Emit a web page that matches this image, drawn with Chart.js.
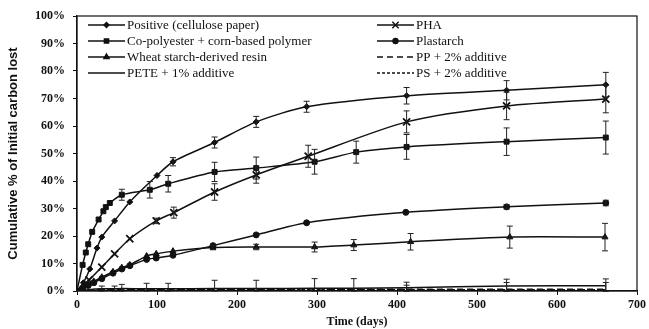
<!DOCTYPE html>
<html>
<head>
<meta charset="utf-8">
<script src="https://cdn.jsdelivr.net/npm/chart.js@4.4.1/dist/chart.umd.min.js"></script>
<style>
  html, body { margin: 0; padding: 0; background: #ffffff; }
  #wrap { width: 649px; height: 329px; position: relative; }
</style>
</head>
<body>
<div id="wrap"><canvas id="c" width="649" height="329"></canvas></div>
<script>
// ---- data ----
const seriesLabels = [
  "Positive (cellulose paper)",
  "Co-polyester + corn-based polymer",
  "Wheat starch-derived resin",
  "PETE + 1% additive",
  "PHA",
  "Plastarch",
  "PP + 2% additive",
  "PS + 2% additive"
];

const positiveDays = [0, 8, 16, 25, 31, 47, 66, 100, 120, 172, 224, 287, 412, 537, 661];
const positiveVals = [0, 3, 8, 15.6, 19.6, 25.5, 32.4, 42, 47, 54, 61.5, 67, 71, 73, 75];
const positiveErr  = [0, 0, 0, 0, 0, 0, 0, 0, 1.5, 2, 2, 2, 3, 3.5, 4.5];

const copolyDays = [0, 7, 11, 14, 19, 27, 33, 36, 41, 56, 91, 114, 172, 224, 297, 349, 412, 537, 661];
const copolyVals = [0, 9.5, 14, 17, 21.5, 26, 29, 30.5, 32, 35, 36.8, 39, 43.3, 44.7, 47, 50.5, 52.4, 54.3, 55.8];
const copolyErr  = [0, 0, 0, 0, 0, 0, 0, 0, 0, 2, 3, 3, 3.5, 4, 4.5, 4, 4.5, 5, 6];

const wheatDays = [0, 7, 14, 21, 31, 45, 56, 66, 87, 99, 120, 170, 224, 297, 346, 417, 541, 660];
const wheatVals = [0, 1.5, 2.5, 3.5, 5, 7, 8.5, 9.5, 12.7, 13.5, 14.5, 15.8, 16, 16, 16.7, 17.9, 19.6, 19.6];
const wheatErr  = [0, 0, 0, 0, 0, 0, 0, 0, 0, 0, 0, 0.8, 1, 1.8, 2, 3, 4, 5];

const peteDays = [0, 14, 31, 47, 56, 87, 114, 172, 224, 297, 346, 412, 537, 661];
const peteVals = [0, 0.5, 0.8, 0.8, 0.9, 0.8, 0.8, 0.9, 0.9, 1.0, 1.0, 1.2, 1.8, 1.9];
const peteErr  = [0, 0, 1, 1, 1.5, 2, 2, 3, 3, 3.5, 3.5, 2, 2.5, 2.5];

const phaDays = [0, 15, 31, 47, 66, 99, 121, 172, 224, 289, 412, 537, 661];
const phaVals = [0, 4, 8.7, 13.5, 19, 25.5, 28.5, 36, 42.2, 49, 61.5, 67.3, 69.8];
const phaErr  = [0, 0, 0, 0, 0, 1, 2, 3, 3, 4, 4, 5, 5];

const plastarchDays = [0, 7, 14, 21, 31, 45, 56, 66, 87, 99, 120, 170, 224, 287, 411, 537, 661];
const plastarchVals = [0, 1, 2, 3, 4.5, 6.5, 8, 9.2, 11.5, 12, 13, 16.5, 20.4, 24.8, 28.6, 30.6, 32];
const plastarchErr  = [0, 0, 0, 0, 0, 0, 0, 0, 0, 0, 0, 0, 0, 0, 0, 0.8, 1];

const ppDays = [0, 14, 31, 47, 56, 87, 114, 172, 224, 297, 346, 412, 537, 661];
const ppVals = [0, 0.3, 0.5, 0.6, 0.5, 0.6, 0.6, 0.5, 0.6, 0.7, 0.6, 0.6, 0.6, 0.6];
const ppErr  = [0, 0, 0, 0, 0, 0, 0, 0, 0, 0, 0, 1.5, 2.5, 2.5];

const psDays = [0, 14, 31, 47, 56, 87, 114, 172, 224, 297, 346, 412, 537, 661];
const psVals = [0, 0.2, 0.4, 0.5, 0.4, 0.5, 0.4, 0.5, 0.5, 0.6, 0.5, 0.5, 0.5, 0.5];

const xTicks = [0, 100, 200, 300, 400, 500, 600, 700];
const yTicks = [0, 10, 20, 30, 40, 50, 60, 70, 80, 90, 100];

// ---- build datasets ----
function pts(days, vals) { return days.map((d, i) => ({ x: d, y: vals[i] })); }

const styles = [
  { pointStyle: 'rectRot', pointRadius: 3, dash: [] },
  { pointStyle: 'rect', pointRadius: 3.5, dash: [] },
  { pointStyle: 'triangle', pointRadius: 3.5, dash: [] },
  { pointStyle: 'circle', pointRadius: 0, dash: [] },
  { pointStyle: 'crossRot', pointRadius: 5, dash: [] },
  { pointStyle: 'circle', pointRadius: 3, dash: [] },
  { pointStyle: 'circle', pointRadius: 0, dash: [6, 4] },
  { pointStyle: 'circle', pointRadius: 0, dash: [3, 2] }
];
const dayArrs = [positiveDays, copolyDays, wheatDays, peteDays, phaDays, plastarchDays, ppDays, psDays];
const valArrs = [positiveVals, copolyVals, wheatVals, peteVals, phaVals, plastarchVals, ppVals, psVals];
const errArrs = [positiveErr, copolyErr, wheatErr, peteErr, phaErr, plastarchErr, ppErr, null];

const datasets = seriesLabels.map((lab, i) => ({
  label: lab,
  data: pts(dayArrs[i], valArrs[i]),
  errors: errArrs[i],
  borderColor: '#111',
  backgroundColor: '#111',
  borderWidth: 1.5,
  borderDash: styles[i].dash,
  pointStyle: styles[i].pointStyle,
  pointRadius: styles[i].pointRadius,
  pointBorderWidth: styles[i].pointStyle === 'crossRot' ? 1.8 : 1,
  pointBackgroundColor: '#111',
  pointBorderColor: '#111',
  tension: 0.25,
  fill: false
}));

// ---- plugins ----
const errorBars = {
  id: 'errorBars',
  afterDatasetsDraw(chart) {
    const ctx = chart.ctx, xs = chart.scales.x, ys = chart.scales.y;
    ctx.save();
    ctx.strokeStyle = '#222';
    ctx.lineWidth = 1;
    chart.data.datasets.forEach(ds => {
      if (!ds.errors) return;
      ds.data.forEach((p, i) => {
        const e = ds.errors[i];
        if (!e) return;
        const x = xs.getPixelForValue(p.x);
        const yt = ys.getPixelForValue(p.y + e);
        const yb = ys.getPixelForValue(Math.max(0, p.y - e));
        ctx.beginPath();
        ctx.moveTo(x, yt); ctx.lineTo(x, yb);
        ctx.moveTo(x - 3, yt); ctx.lineTo(x + 3, yt);
        ctx.moveTo(x - 3, yb); ctx.lineTo(x + 3, yb);
        ctx.stroke();
      });
    });
    ctx.restore();
  }
};

const frame = {
  id: 'frame',
  afterDraw(chart) {
    const ctx = chart.ctx, a = chart.chartArea;
    ctx.save();
    ctx.strokeStyle = '#111';
    ctx.lineWidth = 1.2;
    ctx.strokeRect(a.left, a.top, a.right - a.left, a.bottom - a.top);
    ctx.restore();
  }
};

const customLegend = {
  id: 'customLegend',
  afterDraw(chart) {
    const ctx = chart.ctx, a = chart.chartArea;
    ctx.save();
    ctx.font = '13px "Liberation Serif", "Times New Roman", serif';
    ctx.textBaseline = 'middle';
    ctx.fillStyle = '#111';
    chart.data.datasets.forEach((ds, i) => {
      const col = i < 4 ? 0 : 1;
      const row = i % 4;
      const x0 = a.left + (col ? 300 : 11);
      const x1 = x0 + 37;
      const y = a.top + 9 + row * 16;
      ctx.strokeStyle = '#111';
      ctx.lineWidth = 1.4;
      ctx.setLineDash(ds.borderDash || []);
      ctx.beginPath(); ctx.moveTo(x0, y); ctx.lineTo(x1, y); ctx.stroke();
      ctx.setLineDash([]);
      if (ds.pointRadius > 0) {
        ctx.fillStyle = '#111';
        Chart.helpers.drawPoint(ctx, {
          pointStyle: ds.pointStyle, radius: Math.max(2.5, ds.pointRadius - 0.5), rotation: 0,
          borderWidth: ds.pointBorderWidth
        }, (x0 + x1) / 2, y);
      }
      ctx.fillStyle = '#111';
      ctx.fillText(ds.label, x1 + 2, y + 1);
    });
    ctx.restore();
  }
};

new Chart(document.getElementById('c'), {
  type: 'line',
  data: { datasets },
  options: {
    responsive: false,
    animation: false,
    devicePixelRatio: 1,
    layout: { padding: { top: 16, right: 12, left: 0, bottom: 0 } },
    plugins: { legend: { display: false }, tooltip: { enabled: false } },
    scales: {
      x: {
        type: 'linear', min: 0, max: 700,
        afterBuildTicks(s) { s.ticks = xTicks.map(v => ({ value: v })); },
        afterFit(s) { s.height = 38; },
        grid: { drawOnChartArea: false, color: '#111', tickLength: 4 },
        border: { display: true, color: '#111', width: 1.2 },
        ticks: { color: '#111', padding: 3, font: { family: '"Liberation Serif", serif', size: 12, weight: 'bold' } },
        title: { display: true, text: 'Time (days)', color: '#111', padding: { top: 0, bottom: 0 },
                 font: { family: '"Liberation Serif", serif', size: 12, weight: 'bold' } }
      },
      y: {
        min: 0, max: 100,
        afterBuildTicks(s) { s.ticks = yTicks.map(v => ({ value: v })); },
        afterFit(s) { s.width = 77; },
        grid: { drawOnChartArea: false, color: '#111', tickLength: 4 },
        border: { display: true, color: '#111', width: 1.2 },
        ticks: { color: '#111', padding: 8, callback: v => v + '%',
                 font: { family: '"Liberation Serif", serif', size: 12, weight: 'bold' } },
        title: { display: true, text: 'Cumulative % of Initial carbon lost', color: '#111', padding: { top: 6, bottom: 0 },
                 font: { family: '"Liberation Sans", Arial, sans-serif', size: 13, weight: 'bold' } }
      }
    }
  },
  plugins: [errorBars, frame, customLegend]
});
</script>
</body>
</html>
